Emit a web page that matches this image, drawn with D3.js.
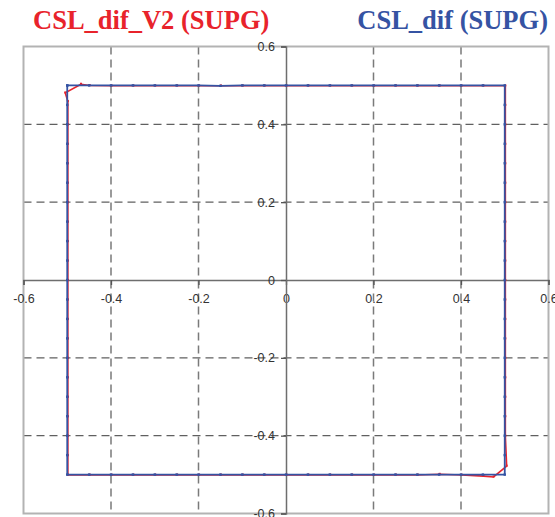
<!DOCTYPE html>
<html>
<head>
<meta charset="utf-8">
<script src="https://cdn.jsdelivr.net/npm/d3@7"></script>
<style>
  html, body { margin: 0; padding: 0; background: #fff; }
  svg { display: block; }
</style>
</head>
<body>
<svg id="chart" width="555" height="517"></svg>
<script>
// ---- data ----
const titleLeft = "CSL_dif_V2 (SUPG)";
const titleRight = "CSL_dif (SUPG)";
const xTicks = [-0.6, -0.4, -0.2, 0, 0.2, 0.4, 0.6];
const yTicks = [-0.6, -0.4, -0.2, 0, 0.2, 0.4, 0.6];
const xTickLabels = ["-0.6", "-0.4", "-0.2", "0", "0.2", "0.4", "0.6"];
const yTickLabels = ["-0.6", "-0.4", "-0.2", "0", "0.2", "0.4", "0.6"];
const gridValues = [-0.4, -0.2, 0.2, 0.4];

// CSL_dif (blue) – square contour
const blueX = [
  -0.5,-0.45,-0.4,-0.35,-0.3,-0.25,-0.2,-0.15,-0.1,-0.05,0,0.05,0.1,0.15,0.2,0.25,0.3,0.35,0.4,0.45,0.5,
  0.5,0.5,0.5,0.5,0.5,0.5,0.5,0.5,0.5,0.5,0.5,0.5,0.5,0.5,0.5,0.5,0.5,0.5,0.5,0.5,
  0.45,0.4,0.35,0.3,0.25,0.2,0.15,0.1,0.05,0,-0.05,-0.1,-0.15,-0.2,-0.25,-0.3,-0.35,-0.4,-0.45,-0.5,
  -0.5,-0.5,-0.5,-0.5,-0.5,-0.5,-0.5,-0.5,-0.5,-0.5,-0.5,-0.5,-0.5,-0.5,-0.5,-0.5,-0.5,-0.5,-0.5,-0.5
];
const blueY = [
  0.5,0.5,0.5,0.5,0.5,0.5,0.5,0.499,0.5,0.5,0.5,0.5,0.5,0.5,0.5,0.5,0.5,0.5,0.5,0.5,0.5,
  0.45,0.4,0.35,0.3,0.25,0.2,0.15,0.1,0.05,0,-0.05,-0.1,-0.15,-0.2,-0.25,-0.3,-0.35,-0.4,-0.45,-0.5,
  -0.5,-0.5,-0.5,-0.5,-0.5,-0.5,-0.5,-0.5,-0.5,-0.5,-0.5,-0.5,-0.5,-0.5,-0.5,-0.5,-0.5,-0.5,-0.5,-0.5,
  -0.45,-0.4,-0.35,-0.3,-0.25,-0.2,-0.15,-0.1,-0.05,0,0.05,0.1,0.15,0.2,0.25,0.3,0.35,0.4,0.45,0.5
];

// CSL_dif_V2 (red) – square contour with rounded-off corners
const redX = [
  -0.47,-0.45,-0.4,-0.35,-0.3,-0.25,-0.2,-0.15,-0.1,-0.05,0,0.05,0.1,0.15,0.2,0.25,0.3,0.35,0.4,0.45,0.5,
  0.5,0.5,0.5,0.5,0.5,0.5,0.5,0.5,0.5,0.5,0.5,0.5,0.5,0.5,0.5,0.5,0.5,0.5,0.503,0.473,
  0.45,0.4,0.35,0.3,0.25,0.2,0.15,0.1,0.05,0,-0.05,-0.1,-0.15,-0.2,-0.25,-0.3,-0.35,-0.4,-0.45,-0.5,
  -0.5,-0.5,-0.5,-0.5,-0.5,-0.5,-0.5,-0.5,-0.5,-0.5,-0.5,-0.5,-0.5,-0.5,-0.5,-0.5,-0.5,-0.5,-0.5,-0.506,-0.47
];
const redY = [
  0.504,0.501,0.5,0.5,0.5,0.5,0.5,0.5,0.5,0.5,0.5,0.5,0.5,0.5,0.5,0.5,0.5,0.5,0.5,0.5,0.5,
  0.45,0.4,0.35,0.3,0.25,0.2,0.15,0.1,0.05,0,-0.05,-0.1,-0.15,-0.2,-0.25,-0.3,-0.35,-0.4,-0.477,-0.505,
  -0.503,-0.5,-0.498,-0.5,-0.5,-0.5,-0.5,-0.5,-0.5,-0.5,-0.5,-0.5,-0.5,-0.5,-0.5,-0.5,-0.5,-0.5,-0.5,-0.5,
  -0.45,-0.4,-0.35,-0.3,-0.25,-0.2,-0.15,-0.1,-0.05,0,0.05,0.1,0.15,0.2,0.25,0.3,0.35,0.4,0.46,0.482,0.504
];

// ---- drawing ----
const svg = d3.select("#chart");
const x = d3.scaleLinear().domain([-0.6, 0.6]).range([23.5, 548.5]);
const y = d3.scaleLinear().domain([-0.6, 0.6]).range([513.5, 46.5]);

const red = "#e8232b";
const blue = "#3553a3";

// titles
svg.append("text").attr("x", 33).attr("y", 29)
  .attr("font-family", "'Liberation Serif', 'Times New Roman', serif")
  .attr("font-weight", "bold").attr("font-size", 26.5)
  .attr("fill", red).text(titleLeft);
svg.append("text").attr("x", 548).attr("y", 29).attr("text-anchor", "end")
  .attr("font-family", "'Liberation Serif', 'Times New Roman', serif")
  .attr("font-weight", "bold").attr("font-size", 26.5)
  .attr("fill", blue).text(titleRight);

// gridlines
const grid = svg.append("g");
grid.selectAll("line.gx").data(gridValues).join("line")
  .attr("x1", d => x(d)).attr("x2", d => x(d))
  .attr("y1", y(0.6)).attr("y2", y(-0.6))
  .attr("stroke", "#7a7a7a").attr("stroke-width", 1.5)
  .attr("stroke-dasharray", "8,5");
grid.selectAll("line.gy").data(gridValues).join("line")
  .attr("y1", d => y(d)).attr("y2", d => y(d))
  .attr("x1", x(-0.6)).attr("x2", x(0.6))
  .attr("stroke", "#606060").attr("stroke-width", 1.2)
  .attr("stroke-dasharray", "8,5");

// frame
svg.append("rect")
  .attr("x", x(-0.6)).attr("y", y(0.6))
  .attr("width", x(0.6) - x(-0.6)).attr("height", y(-0.6) - y(0.6))
  .attr("fill", "none").attr("stroke", "#b3b3b3").attr("stroke-width", 2);

// axes through zero
const xAxis = d3.axisBottom(x).tickValues(xTicks)
  .tickFormat((d, i) => xTickLabels[i]).tickSize(5).tickPadding(9);
const yAxis = d3.axisLeft(y).tickValues(yTicks)
  .tickFormat((d, i) => yTickLabels[i]).tickSize(5).tickPadding(6);

const gx = svg.append("g").attr("transform", `translate(0,${y(0)})`).call(xAxis);
const gy = svg.append("g").attr("transform", `translate(${x(0)},0)`).call(yAxis);
[gx, gy].forEach(g => {
  g.select(".domain").attr("stroke", "#6e6e6e").attr("stroke-width", 1.5);
  g.selectAll(".tick line").attr("stroke", "#555").attr("stroke-width", 1.3);
  g.selectAll(".tick text").attr("font-family", "'Liberation Sans', Arial, sans-serif")
    .attr("font-size", 12.5).attr("fill", "#333");
});

// series
const line = d3.line().x(d => x(d[0])).y(d => y(d[1]));
const redPts = redX.map((v, i) => [v, redY[i]]);
const bluePts = blueX.map((v, i) => [v, blueY[i]]);

svg.append("path").datum(redPts).attr("d", line)
  .attr("fill", "none").attr("stroke", red).attr("stroke-width", 1.6)
  .attr("transform", "translate(0.6,0.4)");
svg.append("g").selectAll("rect").data(redPts).join("rect")
  .attr("x", d => x(d[0]) - 0.4).attr("y", d => y(d[1]) - 1)
  .attr("width", 2).attr("height", 2).attr("fill", red);

svg.append("path").datum(bluePts).attr("d", line)
  .attr("fill", "none").attr("stroke", blue).attr("stroke-width", 1.8);
svg.append("g").selectAll("rect").data(bluePts).join("rect")
  .attr("x", d => x(d[0]) - 1.2).attr("y", d => y(d[1]) - 1.2)
  .attr("width", 2.4).attr("height", 2.4).attr("fill", blue);
</script>
</body>
</html>
